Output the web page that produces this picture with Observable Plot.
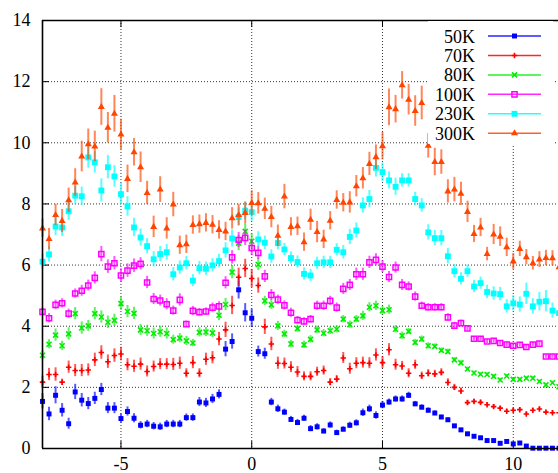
<!DOCTYPE html>
<html><head><meta charset="utf-8">
<script src="https://cdn.jsdelivr.net/npm/d3@7"></script>
<script src="https://cdn.jsdelivr.net/npm/@observablehq/plot@0.6"></script>
<style>
html,body{margin:0;padding:0;background:#fff;overflow:hidden}
#chart svg, #chart svg text { font-family: "Liberation Serif", "Times New Roman", Times, serif !important; }
</style>
</head><body><div id="chart"></div>
<script>
// momentum positions (x)
const xs = [
  -8,-7.75,-7.5,-7.25,-7,-6.75,-6.5,-6.25,-6,-5.75,
  -5.5,-5.25,-5,-4.75,-4.5,-4.25,-4,-3.75,-3.5,-3.25,
  -3,-2.75,-2.5,-2.25,-2,-1.75,-1.5,-1.25,-1,-0.75,
  -0.5,-0.25,0,0.25,0.5,0.75,1,1.25,1.5,1.75,
  2,2.25,2.5,2.75,3,3.25,3.5,3.75,4,4.25,
  4.5,4.75,5,5.25,5.5,5.75,6,6.25,6.5,6.75,
  7,7.25,7.5,7.75,8,8.25,8.5,8.75,9,9.25,
  9.5,9.75,10,10.25,10.5,10.75,11,11.25,11.5,11.75
];
const labels = ["50K","70K","80K","100K","230K","300K"];
const xTicks = [-5, 0, 5, 10];
const yTicks = [0, 2, 4, 6, 8, 10, 12, 14];
const yGrid = [2, 4, 6, 8, 10, 12];

const v50 = [
  1.54,1.13,1.74,1.25,0.81,1.85,1.58,1.47,1.64,1.93,
  1.32,1.32,0.98,1.21,0.99,0.76,0.80,0.73,0.71,0.80,
  0.80,0.80,1.01,1.01,1.52,1.49,1.62,1.77,3.25,3.50,
  5.19,4.44,4.26,3.17,3.10,1.52,1.30,1.19,0.95,0.85,
  0.99,0.65,0.71,0.57,0.77,0.52,0.63,0.76,0.84,1.17,
  1.30,1.08,1.42,1.52,1.62,1.62,1.74,1.46,1.35,1.25,
  1.16,1.03,0.94,0.74,0.61,0.48,0.40,0.35,0.26,0.26,
  0.17,0.23,0.15,0.18,0.08,0.01,0.01,0.01,0.01,0.01];
const e50 = [
  .25,.22,.28,.22,.18,.25,.22,.2,.2,.2,
  .18,.18,.15,.15,.15,.12,.12,.12,.12,.12,
  .12,.12,.12,.12,.15,.15,.15,.15,.25,.25,
  .3,.3,.3,.18,.18,.12,.12,.1,.1,.1,
  .1,.1,.1,.08,.1,.08,.08,.1,.1,.12,
  .12,.12,.12,.1,.1,.1,.1,.08,.08,.08,
  .07,.06,.06,.05,.05,.05,.05,.05,.05,.05,
  .04,.04,.04,.03,.03,.03,.03,.03,.03,.03];

const v70 = [
  2.17,2.42,2.42,2.17,2.66,2.55,2.55,2.57,2.90,3.14,
  2.84,3.04,3.09,2.74,2.69,2.76,2.52,2.68,2.76,2.76,
  2.75,2.79,2.46,2.81,2.46,2.92,2.97,3.58,3.88,4.68,
  5.60,5.89,5.56,5.33,3.98,3.42,2.79,2.78,2.66,2.50,
  2.36,2.36,2.51,2.55,2.17,2.27,2.96,2.61,2.79,2.81,
  2.79,3.06,2.81,3.23,2.74,2.70,2.46,2.74,2.38,2.46,
  2.44,2.49,2.16,2.00,1.88,1.50,1.54,1.51,1.43,1.37,
  1.32,1.22,1.25,1.27,1.13,1.25,1.29,1.19,1.17,1.17];
const e70 = [
  .2,.2,.22,.1,.2,.2,.2,.2,.22,.22,
  .22,.22,.22,.2,.2,.2,.18,.18,.18,.18,
  .2,.2,.15,.2,.15,.2,.2,.22,.25,.3,
  .3,.3,.3,.25,.25,.22,.2,.18,.18,.18,
  .15,.15,.15,.15,.12,.12,.18,.18,.18,.18,
  .18,.2,.2,.2,.18,.15,.15,.15,.12,.12,
  .12,.12,.12,.1,.1,.08,.07,.07,.07,.07,
  .06,.06,.06,.06,.06,.06,.06,.06,.06,.06];

const v80 = [
  3.05,3.41,3.71,3.36,3.75,4.41,3.94,4.01,4.41,4.30,
  4.13,4.19,4.74,4.48,4.42,3.88,3.85,3.76,3.82,3.76,
  3.56,3.61,3.52,3.45,3.80,3.81,3.78,4.36,4.71,5.77,
  6.72,7.10,6.78,6.02,4.83,4.70,4.01,3.75,3.42,3.92,
  3.39,3.57,3.88,3.77,3.85,3.90,4.23,4.05,4.23,4.34,
  4.62,4.67,4.51,4.54,3.90,3.69,3.83,3.47,3.58,3.36,
  3.34,3.21,3.17,2.90,2.80,2.60,2.47,2.43,2.42,2.36,
  2.24,2.37,2.26,2.26,2.30,2.30,2.19,2.08,2.15,2.02];
const e80 = [
  .15,.15,.2,.15,.2,.2,.2,.18,.2,.2,
  .2,.2,.22,.2,.2,.18,.18,.18,.18,.18,
  .15,.15,.15,.12,.15,.15,.15,.18,.2,.22,
  .25,.25,.25,.2,.15,.15,.15,.12,.12,.12,
  .12,.12,.12,.12,.12,.12,.12,.12,.12,.15,
  .15,.15,.15,.15,.12,.12,.1,.1,.1,.1,
  .08,.08,.08,.07,.07,.06,.06,.06,.06,.06,
  .06,.05,.05,.05,.05,.05,.05,.05,.05,.05];

const v100 = [
  4.47,4.26,4.70,4.75,4.41,5.07,5.16,5.33,5.58,6.36,
  5.95,6.06,5.66,5.82,5.98,6.04,5.43,4.89,4.84,4.72,
  4.51,4.86,4.07,4.50,4.46,4.48,4.61,4.65,5.42,6.25,
  6.82,6.89,6.56,6.40,5.63,5.02,4.87,4.68,4.44,4.20,
  4.16,4.23,4.67,4.67,4.83,4.61,5.22,5.35,5.70,5.70,
  6.09,6.17,5.95,5.61,5.92,5.35,5.30,4.97,4.67,4.62,
  4.62,4.62,4.29,4.02,4.10,3.93,3.59,3.59,3.50,3.52,
  3.45,3.40,3.36,3.39,3.32,3.40,3.43,3.01,3.01,3.01];
const e100 = [
  .12,.15,.15,.15,.15,.15,.18,.18,.2,.25,
  .22,.22,.22,.22,.22,.2,.2,.18,.18,.18,
  .15,.2,.1,.15,.12,.12,.15,.15,.2,.22,
  .25,.25,.25,.22,.2,.18,.15,.15,.15,.12,
  .12,.12,.15,.15,.15,.15,.18,.18,.2,.2,
  .2,.2,.2,.18,.18,.18,.15,.15,.12,.12,
  .12,.12,.12,.1,.1,.08,.07,.07,.07,.07,
  .07,.07,.07,.07,.07,.07,.07,.06,.06,.06];

const v230 = [
  6.11,6.35,7.26,7.23,7.76,8.27,8.25,9.52,9.36,8.44,
  9.20,8.90,8.32,7.92,7.23,6.90,6.62,6.19,6.36,6.42,
  5.70,5.92,6.06,5.49,5.90,5.88,5.99,6.13,6.48,6.87,
  7.57,7.78,7.73,6.84,6.73,6.28,6.72,6.51,6.23,6.10,
  5.71,5.66,6.06,6.09,6.09,6.50,6.42,6.92,7.13,7.95,
  8.16,9.18,9.04,8.77,8.56,8.77,8.77,8.16,7.95,7.07,
  6.88,6.88,6.29,5.80,5.55,5.80,5.30,5.41,5.12,5.07,
  5.05,4.65,4.75,4.71,5.06,4.65,4.80,4.82,4.51,4.43];
const e230 = [
  .25,.25,.3,.3,.3,.3,.3,.35,.35,.38,
  .38,.35,.35,.32,.3,.28,.25,.25,.25,.25,
  .22,.22,.22,.2,.22,.22,.22,.22,.25,.28,
  .3,.3,.3,.25,.22,.22,.22,.2,.2,.2,
  .2,.2,.2,.2,.2,.2,.22,.25,.25,.25,
  .28,.3,.3,.28,.28,.22,.22,.22,.22,.25,
  .25,.25,.25,.22,.2,.2,.2,.2,.22,.22,
  .22,.22,.25,.25,.35,.25,.3,.35,.25,.25];

const v300 = [
  7.20,6.85,7.64,7.44,8.12,8.70,9.55,9.95,9.88,11.17,
  10.49,10.95,10.27,8.82,9.69,9.20,8.36,7.25,8.47,7.20,
  7.98,6.65,6.68,7.31,7.34,7.38,7.32,7.15,7.10,7.53,
  7.64,7.70,8.03,8.02,7.84,7.57,6.96,8.24,7.25,7.27,
  6.75,7.48,7.08,6.84,7.45,8.13,8.04,8.05,8.58,8.84,
  9.31,9.53,9.89,11.16,11.10,11.88,11.41,11.04,11.30,9.90,
  9.37,9.37,8.41,8.47,8.33,7.74,7.02,7.23,6.36,7.00,
  6.93,6.58,6.12,6.53,6.26,6.06,6.18,6.23,6.22,5.93];
const e300 = [
  .3,.35,.35,.38,.4,.45,.5,.5,.5,.6,
  .5,.6,.5,.45,.45,.5,.38,.35,.42,.35,
  .4,.3,.3,.3,.3,.3,.3,.3,.3,.35,
  .35,.35,.4,.35,.35,.35,.35,.4,.3,.3,
  .3,.35,.35,.3,.3,.3,.3,.35,.35,.35,
  .38,.4,.45,.6,.45,.45,.5,.5,.55,.4,
  .45,.4,.38,.4,.38,.35,.28,.3,.22,.33,
  .32,.3,.26,.25,.25,.22,.26,.25,.25,.22];

const FONT = '"Liberation Serif", "Times New Roman", Times, serif';
const colors = ["#0000ff", "#ff0000", "#00ee00", "#ff00ff", "#00ffff", "#ff4500"];
const series = [
  {values: v50,  errors: e50,  symbol: "square",   filled: true,  r: 2.8, sw: 1},
  {values: v70,  errors: e70,  symbol: "plus",     filled: false, r: 1.9, sw: 1.6},
  {values: v80,  errors: e80,  symbol: "times",    filled: false, r: 2.4, sw: 1.6},
  {values: v100, errors: e100, symbol: "square",   filled: false, r: 2.9, sw: 1.5},
  {values: v230, errors: e230, symbol: "square",   filled: true,  r: 3.3, sw: 1},
  {values: v300, errors: e300, symbol: "triangle", filled: true,  r: 2.6, sw: 1}
].map((s, k) => ({...s, name: labels[k], color: colors[k],
  rows: xs.map((x, i) => ({x, y: s.values[i], e: s.errors[i]}))}));

const seriesMarks = series.flatMap(s => [
  Plot.ruleX(s.rows, {x: "x", y1: d => d.y - d.e, y2: d => d.y + d.e,
    stroke: s.color, strokeWidth: 2, strokeOpacity: 0.65}),
  Plot.dot(s.rows, {x: "x", y: "y", symbol: () => s.symbol, r: s.r,
    fill: s.filled ? s.color : "none", stroke: s.filled ? "none" : s.color,
    strokeWidth: s.sw})
]);

const plot = Plot.plot({
  width: 558, height: 473,
  marginLeft: 42, marginRight: 0, marginTop: 20, marginBottom: 25,
  x: {domain: [-8, 11.73]},
  y: {domain: [0, 14]},
  symbol: {type: "identity"},
  style: {fontFamily: FONT, fontSize: "18px", color: "#000", background: "#fff"},
  marks: [
    Plot.gridX(xTicks, {stroke: "#000", strokeOpacity: 0.8, strokeDasharray: "1,2", strokeWidth: 1}),
    Plot.gridY(yGrid, {stroke: "#000", strokeOpacity: 0.8, strokeDasharray: "1,2", strokeWidth: 1}),
    Plot.ruleX(xTicks, {insetTop: 421, stroke: "#000"}),
    Plot.ruleX(xTicks, {insetBottom: 421, stroke: "#000"}),
    Plot.ruleY(yTicks, {insetRight: 509, stroke: "#000"}),
    ...seriesMarks,
    Plot.ruleX([-8], {stroke: "#000", strokeWidth: 1.6}),
    Plot.ruleY([0, 14], {stroke: "#000", strokeWidth: 1.6}),
    Plot.axisX(xTicks, {tickSize: 0, tickPadding: 9, tickFormat: d => String(d), fontSize: 18, label: null}),
    Plot.axisY(yTicks, {tickSize: 0, tickPadding: 12, tickFormat: d => String(d), fontSize: 18, label: null})
  ]
});

// in-plot key (gnuplot-style, top right, opaque)
const svg = d3.select(plot);
const key = svg.append("g");
key.append("rect").attr("x", 428).attr("y", 21).attr("width", 125).attr("height", 123).attr("fill", "#fff");
series.forEach((s, i) => {
  const cy = 36 + 19.45 * i;
  key.append("text").attr("x", 475).attr("y", cy + 6.5).attr("text-anchor", "end")
    .style("font-family", FONT).style("font-size", "18px")
    .attr("fill", "#000").text(s.name);
  key.append("line").attr("x1", 488).attr("x2", 541).attr("y1", cy).attr("y2", cy)
    .attr("stroke", s.color).attr("stroke-width", 1.5).attr("stroke-opacity", 0.85);
  const type = {square: d3.symbolSquare, plus: d3.symbolPlus, times: d3.symbolTimes, triangle: d3.symbolTriangle}[s.symbol];
  key.append("path").attr("transform", `translate(514.5,${cy})`)
    .attr("d", d3.symbol(type, Math.PI * s.r * s.r)())
    .attr("fill", s.filled ? s.color : "none").attr("stroke", s.filled ? "none" : s.color)
    .attr("stroke-width", s.sw);
});

document.getElementById("chart").appendChild(plot);
</script>
</body></html>
